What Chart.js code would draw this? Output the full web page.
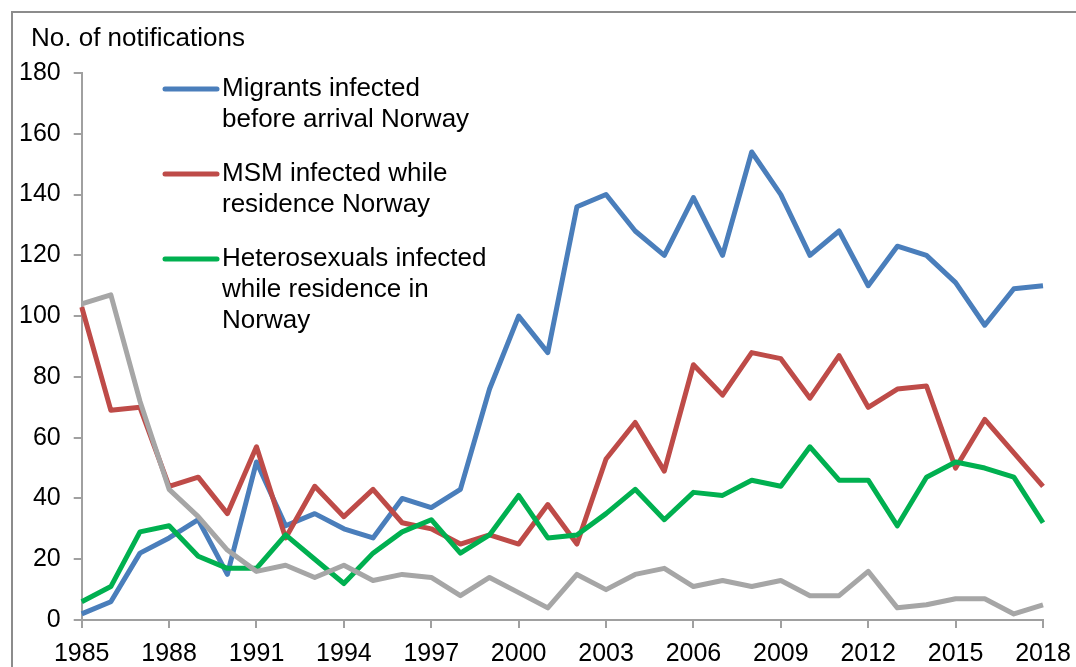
<!DOCTYPE html>
<html>
<head>
<meta charset="utf-8">
<script src="https://cdn.jsdelivr.net/npm/chart.js@4/dist/chart.umd.min.js"></script>
<style>
  html, body { margin: 0; padding: 0; background: #fff; overflow: hidden; }
  #wrap { position: relative; width: 1076px; height: 667px; }
  #frame { position: absolute; left: 11px; top: 11px; width: 2000px; height: 2000px;
           border-left: 2px solid #8c8c8c; border-top: 2px solid #8c8c8c; box-sizing: border-box; }
  canvas { position: absolute; left: 0; top: 0; }
</style>
</head>
<body>
<div id="wrap">
  <div id="frame"></div>
  <canvas id="c" width="1076" height="667"></canvas>
</div>
<script>
// years on the x axis
const years = [];
for (let y = 1985; y <= 2018; y++) years.push(String(y));

// series
const migrants = [2, 6, 22, 27, 33, 15, 52, 31, 35, 30, 27, 40, 37, 43, 76, 100, 88, 136, 140, 128,
  120, 139, 120, 154, 140, 120, 128, 110, 123, 120, 111, 97, 109, 110];
const msm = [103, 69, 70, 44, 47, 35, 57, 27, 44, 34, 43, 32, 30, 25, 28, 25, 38, 25, 53, 65,
  49, 84, 74, 88, 86, 73, 87, 70, 76, 77, 50, 66, 55, 44];
const hetero = [6, 11, 29, 31, 21, 17, 17, 28, 20, 12, 22, 29, 33, 22, 28, 41, 27, 28, 35, 43,
  33, 42, 41, 46, 44, 57, 46, 46, 31, 47, 52, 50, 47, 32];
const other = [104, 107, 72, 43, 34, 23, 16, 18, 14, 18, 13, 15, 14, 8, 14, 9, 4, 15, 10, 15,
  17, 11, 13, 11, 13, 8, 8, 16, 4, 5, 7, 7, 2, 5];

const yTicks = [0, 20, 40, 60, 80, 100, 120, 140, 160, 180];
const yTitle = 'No. of notifications';

const legendItems = [
  { color: '#4a7ebb', lines: ['Migrants infected', 'before arrival Norway'] },
  { color: '#be4b48', lines: ['MSM infected while', 'residence Norway'] },
  { color: '#00b050', lines: ['Heterosexuals infected', 'while residence in', 'Norway'] }
];

const FONT = '"Liberation Sans", Arial, sans-serif';
const AXIS = '#a0a0a0';

// legend + title drawn by hand (multi-line labels)
const notes = {
  id: 'notes',
  afterDraw(chart) {
    const ctx = chart.ctx;
    ctx.save();
    ctx.font = '26px ' + FONT;
    ctx.fillStyle = '#000';
    ctx.textBaseline = 'middle';
    ctx.textAlign = 'left';
    ctx.fillText(yTitle, 31, 39);

    let y = 89;
    legendItems.forEach(item => {
      ctx.strokeStyle = item.color;
      ctx.lineWidth = 5;
      ctx.lineCap = 'round';
      ctx.beginPath();
      ctx.moveTo(165, y);
      ctx.lineTo(217, y);
      ctx.stroke();
      item.lines.forEach((t, i) => ctx.fillText(t, 222, y + i * 31));
      y += item.lines.length === 2 ? 85 : 0;
    });
    ctx.restore();
  }
};

function ds(label, data, color, order) {
  return {
    label: label,
    data: data,
    borderColor: color,
    backgroundColor: color,
    borderWidth: 5,
    pointRadius: 0,
    tension: 0,
    borderJoinStyle: 'round',
    order: order
  };
}

new Chart(document.getElementById('c').getContext('2d'), {
  type: 'line',
  data: {
    labels: years,
    datasets: [
      ds('Migrants infected before arrival Norway', migrants, '#4a7ebb', 4),
      ds('MSM infected while residence Norway', msm, '#be4b48', 3),
      ds('Heterosexuals infected while residence in Norway', hetero, '#00b050', 2),
      ds('Other', other, '#a6a6a6', 1)
    ]
  },
  options: {
    responsive: false,
    animation: false,
    layout: { padding: { left: 6, right: 0, top: 73, bottom: 0 } },
    plugins: {
      legend: { display: false },
      tooltip: { enabled: false },
      title: { display: false }
    },
    scales: {
      x: {
        offset: false,
        afterFit: function (scale) {
          scale.height = 47;
          scale.paddingRight = 33;
        },
        grid: { drawOnChartArea: false, drawTicks: true, tickLength: 8, color: AXIS, lineWidth: 2 },
        border: { color: AXIS, width: 2 },
        ticks: {
          autoSkip: false,
          maxRotation: 0,
          padding: 11,
          color: '#000',
          font: { family: FONT, size: 25 },
          callback: function (v, i) {
            return (i % 3 === 0) ? years[i] : null;
          }
        }
      },
      y: {
        min: yTicks[0],
        max: yTicks[yTicks.length - 1],
        afterBuildTicks: function (scale) {
          scale.ticks = yTicks.map(v => ({ value: v }));
        },
        grid: { drawOnChartArea: false, drawTicks: true, tickLength: 8, color: AXIS, lineWidth: 2 },
        border: { color: AXIS, width: 2 },
        ticks: {
          padding: 13,
          color: '#000',
          font: { family: FONT, size: 25 }
        }
      }
    }
  },
  plugins: [notes]
});
</script>
</body>
</html>
